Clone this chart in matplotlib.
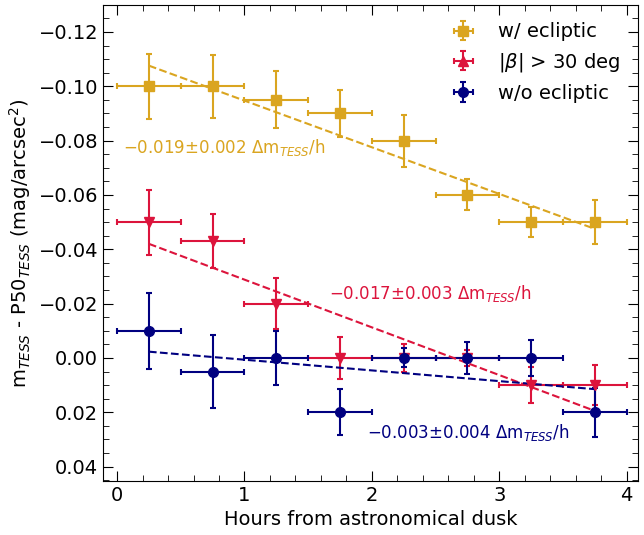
import numpy as np
import matplotlib
matplotlib.use("Agg")
import matplotlib.pyplot as plt
from matplotlib.ticker import MultipleLocator

# bin centres (hours from astronomical dusk) and half-widths
hours = [0.25, 0.75, 1.25, 1.75, 2.25, 2.75, 3.25, 3.75]
hourErr = [0.25, 0.25, 0.25, 0.25, 0.25, 0.25, 0.25, 0.25]

# w/ ecliptic
eclY = [-0.100, -0.100, -0.095, -0.090, -0.080, -0.060, -0.050, -0.050]
eclErr = [0.012, 0.0115, 0.0105, 0.0088, 0.0096, 0.0057, 0.0055, 0.008]

# |beta| > 30 deg
betaY = [-0.050, -0.043, -0.020, 0.000, 0.000, 0.000, 0.010, 0.010]
betaErr = [0.012, 0.010, 0.0095, 0.0078, 0.005, 0.003, 0.0065, 0.0075]

# w/o ecliptic
noEclY = [-0.010, 0.005, 0.000, 0.020, 0.000, 0.000, 0.000, 0.020]
noEclErr = [0.014, 0.0135, 0.010, 0.0085, 0.0035, 0.006, 0.0065, 0.009]

# fitted lines, end points at first and last bin
fitX = [0.25, 3.75]
eclFit = [-0.1076, -0.0475]
betaFit = [-0.042, 0.0195]
noEclFit = [-0.0023, 0.0115]

eclText = "\u22120.019\u00b10.002 \u0394m$_{TESS}$/h"
betaText = "\u22120.017\u00b10.003 \u0394m$_{TESS}$/h"
noEclText = "\u22120.003\u00b10.004 \u0394m$_{TESS}$/h"

plt.rcParams['font.size'] = 14

fig = plt.figure(figsize=(6.44, 5.35), dpi=100)
ax = fig.add_axes([0.16, 0.101, 0.831, 0.89])

ebKw = dict(elinewidth=1.5, capsize=2.5, capthick=1.5, linestyle='none', markersize=7)

ax.errorbar(hours, eclY, xerr=hourErr, yerr=eclErr, marker='s', color='goldenrod', label='w/ ecliptic', **ebKw)
ax.errorbar(hours, betaY, xerr=hourErr, yerr=betaErr, marker='v', color='crimson', **ebKw)
# legend entry for beta uses an up-triangle
ax.errorbar([np.nan], [np.nan], xerr=[0.1], yerr=[0.1], marker='^', color='crimson', label=r'|$\beta$| > 30 deg', **ebKw)
ax.errorbar(hours, noEclY, xerr=hourErr, yerr=noEclErr, marker='o', color='navy', label='w/o ecliptic', **ebKw)

ax.plot(fitX, eclFit, '--', color='goldenrod', lw=1.5)
ax.plot(fitX, betaFit, '--', color='crimson', lw=1.5)
ax.plot(fitX, noEclFit, '--', color='navy', lw=1.5)

ax.text(0.05, -0.0773, eclText, color='goldenrod', fontsize=12, va='center')
ax.text(1.66, -0.0236, betaText, color='crimson', fontsize=12, va='center')
ax.text(1.96, 0.0276, noEclText, color='navy', fontsize=12, va='center')

ax.set_xlim(-0.11, 4.09)
ax.set_ylim(0.0453, -0.130)
ax.xaxis.set_major_locator(MultipleLocator(1))
ax.xaxis.set_minor_locator(MultipleLocator(0.2))
ax.yaxis.set_major_locator(MultipleLocator(0.02))
ax.yaxis.set_minor_locator(MultipleLocator(0.005))
ax.tick_params(which='both', direction='in', top=True, right=True)
ax.tick_params(which='major', length=7, labelsize=14)
ax.tick_params(which='minor', length=4)

ax.set_xlabel('Hours from astronomical dusk', fontsize=14)
ax.set_ylabel(r'm$_{TESS}$ - P50$_{TESS}$ (mag/arcsec$^2$)', fontsize=14)

ax.legend(loc='upper right', frameon=False, fontsize=14)

plt.savefig('out.png', dpi=100)
